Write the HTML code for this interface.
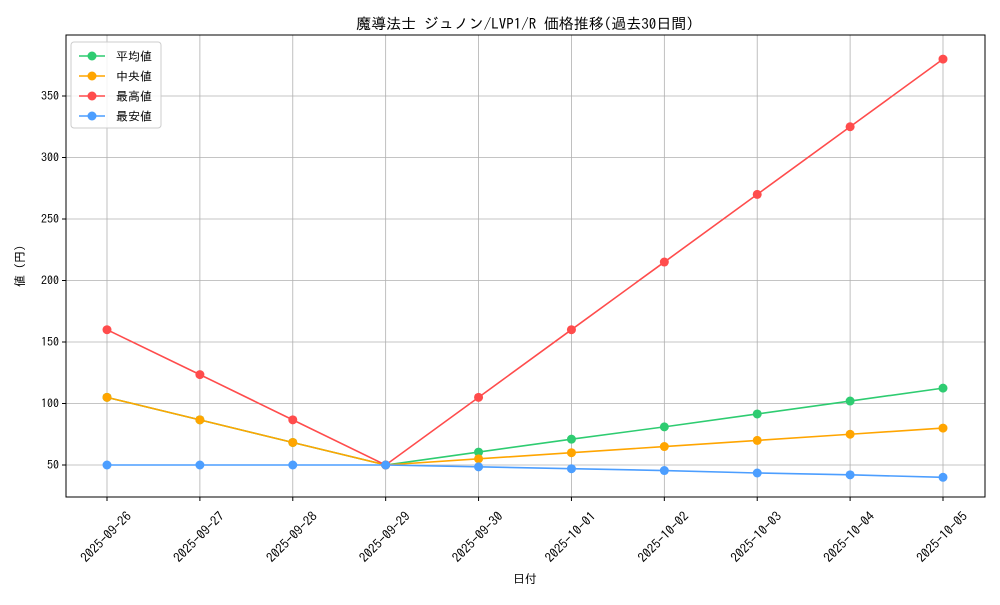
<!DOCTYPE html>
<html><head><meta charset="utf-8"><style>
body{margin:0;background:#fff}
svg{font-family:"IPAGothic","Liberation Sans","Noto Sans CJK JP",sans-serif}
</style></head><body>
<svg id="chart" width="1000" height="600" viewBox="0 0 1000 600" xmlns="http://www.w3.org/2000/svg">
<rect width="1000" height="600" fill="#fff"/>
<text x="525" y="29" font-size="15" text-anchor="middle">魔導法士 ジュノン/LVP1/R 価格推移(過去30日間)</text>
<g id="grid"></g><g id="axes"></g><g id="series"></g>
<text x="525" y="583" font-size="12" text-anchor="middle">日付</text>
<text transform="translate(24,266) rotate(-90)" font-size="12" text-anchor="middle">値 (円)</text>
<g id="legend"></g>
</svg>
<script>
const dates=["2025-09-26","2025-09-27","2025-09-28","2025-09-29","2025-09-30","2025-10-01","2025-10-02","2025-10-03","2025-10-04","2025-10-05"];
const avgVals=[105,86.7,68.3,50,60.5,71,81,91.5,102,112.5];
const medVals=[105,86.7,68.3,50,55,60,65,70,75,80];
const maxVals=[160,123.5,86.7,50,105,160,215,270,325,380];
const minVals=[50,50,50,50,48.5,47,45.5,43.5,42,40];
const yTicks=[50,100,150,200,250,300,350];
const seriesNames=["平均値","中央値","最高値","最安値"];
const colors=["#2ecc71","#ffa500","#ff4c4c","#4c9eff"];
const L=66,R=985,T=35,B=497;
const NS="http://www.w3.org/2000/svg";
function xs(i){return 107+i*(943-107)/(dates.length-1);}
function ys(v){return 465-(v-50)*(465-96)/300;}
function mk(tag,attrs,parent){const e=document.createElementNS(NS,tag);for(const k in attrs)e.setAttribute(k,attrs[k]);parent.appendChild(e);return e;}
const grid=document.getElementById('grid'),axes=document.getElementById('axes'),ser=document.getElementById('series'),leg=document.getElementById('legend');
dates.forEach((d,i)=>{
 const g=mk('line',{x1:xs(i),x2:xs(i),y1:T,y2:B,stroke:'#b0b0b0','stroke-width':0.8},grid);
 
 
 mk('line',{x1:xs(i),x2:xs(i),y1:B,y2:B+4,stroke:'#000'},axes);
 const t=mk('text',{x:0,y:4.5,'font-size':13,'text-anchor':'middle',transform:`translate(${xs(i)-1},537) rotate(-45)`},axes);
 t.textContent=d;
 
 
});
yTicks.forEach(v=>{
 const g=mk('line',{x1:L,x2:R,y1:ys(v),y2:ys(v),stroke:'#b0b0b0','stroke-width':0.8},grid);
 
 
 mk('line',{x1:L-4,x2:L,y1:ys(v),y2:ys(v),stroke:'#000'},axes);
 const t=mk('text',{x:L-7,y:ys(v)+4,'font-size':12,'text-anchor':'end'},axes);
 t.textContent=v;
 
 
});
const frame=mk('rect',{x:L,y:T,width:R-L,height:B-T,fill:'none',stroke:'#000','stroke-width':1},axes);


const allVals=[avgVals,medVals,maxVals,minVals];
const keys=['average','median','max','min'];
allVals.forEach((vals,s)=>{
 const p=mk('polyline',{points:vals.map((v,i)=>xs(i)+','+ys(v)).join(' '),fill:'none',stroke:colors[s],'stroke-width':1.6},ser);
 
 
 vals.forEach((v,i)=>{
  const c=mk('circle',{cx:xs(i),cy:ys(v),r:4.5,fill:colors[s]},ser);
  
  
 });
});
const box=mk('rect',{x:71,y:42,width:90,height:86,rx:3,fill:'#fff','fill-opacity':0.85,stroke:'#ccc'},leg);


seriesNames.forEach((n,s)=>{
 const y=56+s*20;
 mk('line',{x1:79,x2:105,y1:y,y2:y,stroke:colors[s],'stroke-width':1.6},leg);
 mk('circle',{cx:92,cy:y,r:4.5,fill:colors[s]},leg);
 const t=mk('text',{x:116,y:y+4.5,'font-size':12},leg);
 t.textContent=n;
 
 
});
</script>
</body></html>
